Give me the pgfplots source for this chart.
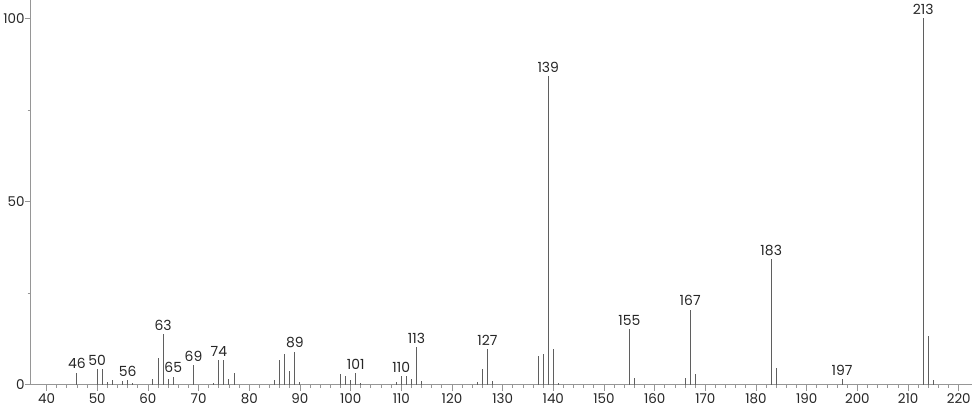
\documentclass[border=0pt]{standalone}
\usepackage{pgfplots}
\pgfplotsset{compat=1.18}
\usepackage{pgfplotstable}
\usepackage{fontspec}
\setmainfont{Poppins}
\definecolor{axisgray}{RGB}{150,150,150}
\definecolor{bargray}{RGB}{95,95,95}
\pgfplotstableread{
x y
46 3.3
50 4.3
51 4.3
52 0.6
53 1.3
55 0.9
56 1.3
57 0.4
61 1.6
62 7.2
63 13.8
64 1.5
65 2.2
69 5.4
73 0.5
74 6.6
75 6.6
76 1.6
77 3.3
85 1.4
86 6.8
87 8.5
88 3.6
89 9.0
90 0.7
98 2.9
99 2.4
100 1.3
101 3.2
102 0.5
109 0.8
110 2.3
111 2.4
112 1.6
113 10.2
114 1.0
125 0.8
126 4.4
127 9.6
128 0.9
137 7.7
138 8.5
139 84.2
140 9.6
141 0.4
155 15.2
156 1.8
166 1.8
167 20.5
168 3.0
183 34.2
184 4.5
197 1.5
213 100
214 13.4
215 1.4
}\peaks
\pgfplotstableread{
x y label
46 3.3 46
50 4.3 50
56 1.3 56
63 13.8 63
65 2.2 65
69 5.4 69
74 6.6 74
89 9.0 89
101 3.2 101
110 2.3 110
113 10.2 113
127 9.6 127
139 84.2 139
155 15.2 155
167 20.5 167
183 34.2 183
197 1.5 197
213 100 213
}\labels
\begin{document}
\begin{tikzpicture}
\begin{axis}[
  scale only axis,
  width=941bp, height=384bp,
  xmin=36.84, xmax=222.6,
  ymin=0, ymax=104.9,
  axis x line=bottom, axis y line=left,
  axis line style={-, axisgray, line width=1bp},
  xtick={40,50,...,220},
  minor x tick num=4,
  ytick={0,50,100},
  minor ytick={25,75},
  tick align=outside,
  major tick length=6bp, minor tick length=3bp,
  tick style={axisgray, line width=0.8bp},
  /pgf/number format/assume math mode=true,
  ticklabel style={font=\fontsize{13.5}{15}\selectfont, text=black!85},
  xticklabel style={yshift=1bp},
  yticklabel style={xshift=3.5bp},
  clip=false,
]
\addplot[ycomb, bargray, line width=1bp, mark=none] table[x=x,y=y] {\peaks};
\addplot[only marks, mark=none, nodes near coords, point meta=explicit symbolic,
  nodes near coords style={anchor=south, inner sep=1.5bp, yshift=2bp, font=\fontsize{14}{16}\selectfont, text=black!85}]
  table[x=x,y=y,meta=label] {\labels};
\end{axis}
\end{tikzpicture}
\end{document}
